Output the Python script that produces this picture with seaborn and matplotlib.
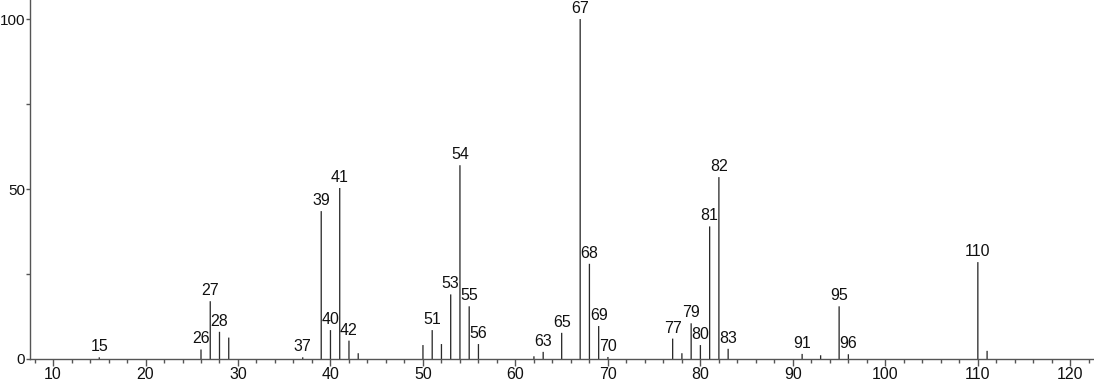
import matplotlib
matplotlib.use("Agg")
import matplotlib.pyplot as plt
import seaborn as sns
import pandas as pd
from matplotlib.ticker import MultipleLocator

# m/z values and relative intensities
mz = [15, 26, 27, 28, 29, 37, 39, 40, 41, 42, 43, 50, 51, 52, 53, 54, 55, 56,
      62, 63, 65, 67, 68, 69, 70, 77, 78, 79, 80, 81, 82, 83, 91, 93, 95, 96,
      110, 111]
intensity = [0.5, 2.8, 17.0, 8.0, 6.3, 0.5, 43.5, 8.5, 50.3, 5.4, 1.7, 4.1, 8.5,
             4.4, 19.0, 57.0, 15.5, 4.4, 0.8, 2.1, 7.7, 100.0, 28.0, 9.7, 0.6,
             6.0, 1.7, 10.5, 4.1, 39.0, 53.5, 3.0, 1.5, 1.1, 15.5, 1.4, 28.5, 2.4]
labeled = [15, 26, 27, 28, 37, 39, 40, 41, 42, 51, 53, 54, 55, 56, 63, 65, 67,
           68, 69, 70, 77, 79, 80, 81, 82, 83, 91, 95, 96, 110]

df = pd.DataFrame({"mz": mz, "intensity": intensity})

sns.set_theme(style="ticks")
plt.rcParams["font.family"] = ["Liberation Sans", "DejaVu Sans"]

fig = plt.figure(figsize=(10.94, 3.84), dpi=100)
ax = fig.add_axes([30 / 1094, 25 / 384, 1 - 30 / 1094, 1 - 25 / 384])

sns.barplot(data=df, x="mz", y="intensity", native_scale=True, width=0.14,
            color="#2a2a2a", saturation=1, linewidth=0, ax=ax)
for p in ax.patches:
    p.set_snap(False)

lookup = dict(zip(mz, intensity))
for m in labeled:
    ax.annotate(str(m), (m, lookup[m]), xytext=(0, 2.2), textcoords="offset points",
                ha="center", va="bottom", fontsize=11.5, color="#111111")

ax.set_xlim(7.51, 122.56)
ax.set_ylim(0, 105.6)
ax.xaxis.set_major_locator(MultipleLocator(10))
ax.xaxis.set_minor_locator(MultipleLocator(2))
ax.set_yticks([0, 50, 100])
ax.set_yticks([25, 75], minor=True)
ax.set_xlabel("")
ax.set_ylabel("")
for s in ["top", "right"]:
    ax.spines[s].set_visible(False)
for s in ["left", "bottom"]:
    ax.spines[s].set_color("#555555")
    ax.spines[s].set_linewidth(1.0)
ax.tick_params(axis="x", which="major", length=5, width=1, color="#555555",
               labelsize=11.5, pad=1, labelcolor="#111111")
ax.tick_params(axis="x", which="minor", length=3, width=1, color="#555555")
ax.tick_params(axis="y", which="major", length=3, width=1, color="#555555",
               labelsize=11, pad=0.5, labelcolor="#111111")
ax.tick_params(axis="y", which="minor", length=3, width=1, color="#555555")

fig.savefig("out.png", dpi=100)
